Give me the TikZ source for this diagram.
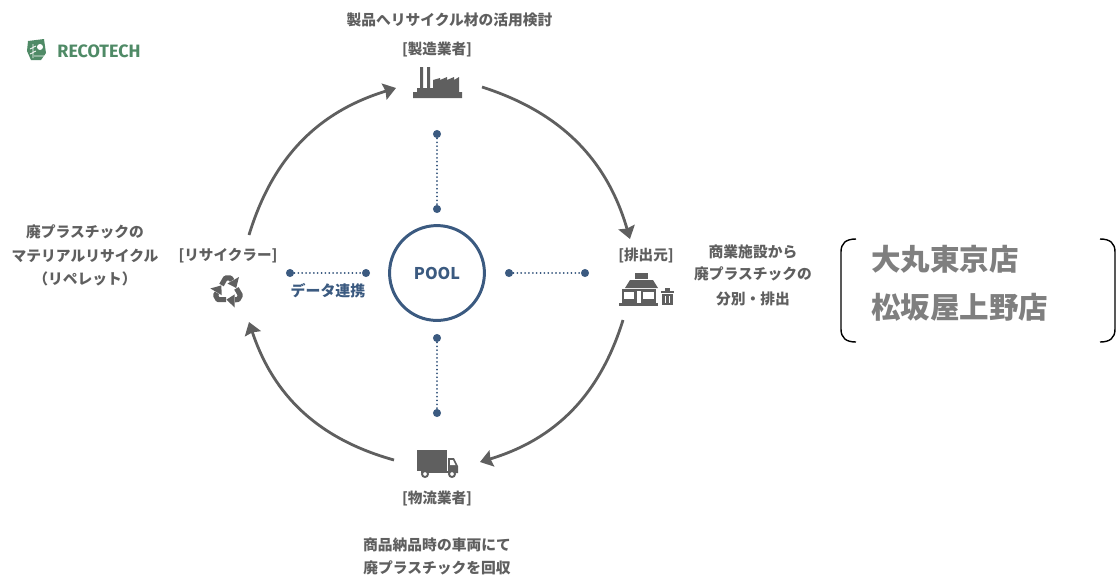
\documentclass[tikz,border=0pt]{standalone}
\usepackage{fontspec}
\setmainfont{Noto Sans CJK JP}
\newfontfamily\logofont{Fira Sans}
\usetikzlibrary{arrows.meta}
\definecolor{inkgray}{HTML}{5F5F5F}
\definecolor{biggray}{HTML}{7F7F7F}
\definecolor{poolblue}{HTML}{3B5A80}
\definecolor{logogreen}{HTML}{4F8A66}
\tikzset{
  cycle/.style={draw=inkgray,line width=1.6pt,-{Stealth[length=7pt,width=9.5pt,inset=0.8pt]}},
  link/.style={draw=poolblue,line width=1pt,line cap=round,dash pattern=on 0.1pt off 2.1pt},
  linkdot/.style={circle,fill=poolblue,inner sep=0pt,minimum size=4.6pt},
  lab/.style={text=inkgray,inner sep=0pt,font=\fontsize{8.4}{10}\selectfont\bfseries},
  role/.style={text=inkgray,inner sep=0pt,font=\fontsize{8.3}{10}\selectfont\bfseries},
  big/.style={text=biggray,inner sep=0pt,anchor=west,font=\fontsize{16.8}{20}\selectfont\bfseries}
}
\begin{document}
\begin{tikzpicture}[x=0.02cm,y=0.02cm]
\useasboundingbox (0,0) rectangle (1117,-576);
% logo
\fill [logogreen] (28,-41) -- (44,-39) -- (46,-53) -- (41,-60) -- (31,-60) -- (27,-51) -- cycle;
\fill [white] (40,-47) circle (3);
\draw [white,line width=0.5pt] (33,-44) -- (33,-58) (30,-49) -- (36,-46) (30,-54) -- (36,-51) (34,-56) -- (44,-56);
\node (logo) [text=logogreen,inner sep=0pt,font=\logofont\fontsize{10.2}{12}\selectfont\bfseries] at (99,-51.5) {RECOTECH};
% top
\node (topnote) [lab] at (449.5,-20) {製品へリサイクル材の活用検討};
\node (maker) [role] at (437,-50) {[製造業者]};
\fill [inkgray] (413,-98) -- (413,-92) -- (417,-92) -- (417,-88) -- (420,-88) -- (420,-67) -- (423,-67) -- (423,-88)
  -- (427,-88) -- (427,-67) -- (430,-67) -- (430,-88) -- (433,-88) -- (433,-80) -- (440,-78) -- (440,-80) -- (447,-77) -- (447,-80)
  -- (454,-77) -- (454,-80) -- (459,-77) -- (459,-92) -- (462,-92) -- (462,-98) -- cycle;
% right
\node (source) [role] at (646,-256) {[排出元]};
\fill [inkgray] (635,-273) rectangle (648,-279);
\fill [inkgray] (625,-288) -- (630,-280) -- (653,-280) -- (658,-288) -- cycle;
\fill [inkgray] (619,-303) rectangle (658,-306);
\fill [inkgray] (622,-289) rectangle (656,-303);
\fill [white] (624,-292) rectangle (634,-299);
\fill [white] (643,-292) rectangle (654,-299);
\fill [white] (637,-291) rectangle (641,-303);
\fill [inkgray] (661,-291) rectangle (674,-293);
\fill [inkgray] (665,-288) rectangle (670,-291);
\fill [inkgray] (662,-294) rectangle (673,-305);
\draw [white,line width=0.5pt] (665.5,-296) -- (665.5,-303) (669.5,-296) -- (669.5,-303);
\node (srcnote1) [lab] at (753,-252) {商業施設から};
\node (srcnote2) [lab] at (753,-274) {廃プラスチックの};
\node (srcnote3) [lab] at (753,-298.5) {分別・排出};
% stores
\draw [black,line width=0.8pt] (856,-239) .. controls (846,-239) and (841,-243) .. (841,-252) -- (841,-329) .. controls (841,-338) and (846,-342) .. (856,-342);
\draw [black,line width=0.8pt] (1100,-239) .. controls (1110,-239) and (1115,-243) .. (1115,-252) -- (1115,-329) .. controls (1115,-338) and (1110,-342) .. (1100,-342);
\node (store1) [big] at (871,-259) {大丸東京店};
\node (store2) [big] at (871,-307) {松坂屋上野店};
% bottom
\fill [inkgray] (417,-450) rectangle (446.5,-471);
\fill [inkgray] (448,-458) -- (454,-458) -- (458,-466) -- (458,-473) -- (448,-473) -- cycle;
\fill [white] (450,-460) -- (453,-460) -- (455.5,-465) -- (450,-465) -- cycle;
\fill [inkgray] (421,-471) rectangle (448,-473);
\draw [inkgray,fill=white,line width=1.1pt] (425,-474) circle (3);
\draw [inkgray,fill=white,line width=1.1pt] (452,-474) circle (3);
\node (carrier) [role] at (437,-499) {[物流業者]};
\node (botnote1) [lab] at (437,-545) {商品納品時の車両にて};
\node (botnote2) [lab] at (437,-568) {廃プラスチックを回収};
% left
\node (recycler) [role] at (228,-256) {[リサイクラー]};
\foreach \a in {0,120,240} {
  \draw [inkgray,line width=2.9pt,line join=round,shift={(228,-291)},rotate=\a] (-6.5,6) -- (-2.5,13) -- (2.5,13) -- (4,10.5);
  \fill [inkgray,shift={(228,-291)},rotate=\a] (8.2,3) -- (11,14) -- (-0.5,7.5) -- cycle;
}
\node (recnote1) [lab] at (85,-232) {廃プラスチックの};
\node (recnote2) [lab] at (85,-256) {マテリアルリサイクル};
\node (recnote3) [lab] at (85,-279) {（リペレット）};
% cycle arrows
\coordinate (a1) at (249,-235);
\coordinate (a2) at (396,-88);
\coordinate (b1) at (482,-87);
\coordinate (b2) at (630,-239);
\coordinate (c1) at (623,-320);
\coordinate (c2) at (480,-462);
\coordinate (d1) at (394,-460);
\coordinate (d2) at (249,-322);
\draw [cycle] (a1) to [bend left=28] (a2);
\draw [cycle] (b1) to [bend left=28] (b2);
\draw [cycle] (c1) to [bend left=28] (c2);
\draw [cycle] (d1) to [bend left=28] (d2);
% pool
\node (pool) [circle,draw=poolblue,line width=1.7pt,minimum size=54pt,inner sep=0pt,text=poolblue,font=\fontsize{9.2}{11}\selectfont\bfseries] at (437,-273) {POOL};
\node (n1) [linkdot] at (437,-134) {};
\node (n2) [linkdot] at (437,-209) {};
\node (s1) [linkdot] at (437,-338) {};
\node (s2) [linkdot] at (437,-413) {};
\node (w1) [linkdot] at (290,-273) {};
\node (w2) [linkdot] at (366,-273) {};
\node (e1) [linkdot] at (509,-273) {};
\node (e2) [linkdot] at (585,-273) {};
\draw [link] (n1) -- (n2);
\draw [link] (s1) -- (s2);
\draw [link] (w1) -- (w2);
\draw [link] (e1) -- (e2);
\node (datalink) [inner sep=0pt,text=poolblue,font=\fontsize{8.5}{10}\selectfont\bfseries] at (328,-291) {データ連携};
\end{tikzpicture}
\end{document}
